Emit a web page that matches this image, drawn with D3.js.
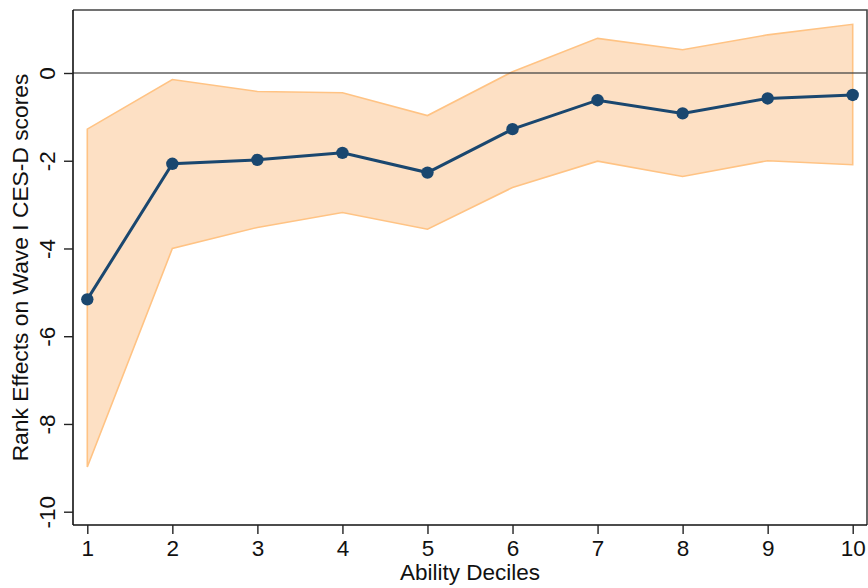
<!DOCTYPE html>
<html>
<head>
<meta charset="utf-8">
<script src="https://cdn.jsdelivr.net/npm/d3@7"></script>
<style>
html,body{margin:0;padding:0;background:#fff;}
svg{display:block;font-family:"Liberation Sans",Arial,Helvetica,sans-serif;}
</style>
</head>
<body>
<svg id="chart" width="868" height="588"></svg>
<script>
const deciles = [1,2,3,4,5,6,7,8,9,10];
const estimate = [-5.16,-2.07,-1.98,-1.82,-2.27,-1.28,-0.62,-0.92,-0.58,-0.50];
const upper = [-1.28,-0.15,-0.42,-0.45,-0.97,0.03,0.79,0.53,0.87,1.11];
const lower = [-8.98,-4.00,-3.52,-3.18,-3.56,-2.61,-2.01,-2.36,-2.00,-2.09];
const yTicks = [0,-2,-4,-6,-8,-10];
const xTicks = [1,2,3,4,5,6,7,8,9,10];
const xTitle = "Ability Deciles";
const yTitle = "Rank Effects on Wave I CES-D scores";

const rows = deciles.map((d,i)=>({d, est:estimate[i], hi:upper[i], lo:lower[i]}));

const svg = d3.select("#chart");
const pL = 73, pR = 867, pT = 10, pB = 525;

const x = d3.scaleLinear().domain([1,10]).range([87.3,852.7]);
const y = d3.scaleLinear().domain([-10,0]).range([511.7,73]);
const fmt = v => String(v);

// CI band
svg.append("path")
  .datum(rows)
  .attr("d", d3.area().x(r=>x(r.d)).y0(r=>y(r.lo)).y1(r=>y(r.hi)))
  .attr("fill","#fde0c4")
  .attr("stroke","#ffc384")
  .attr("stroke-width",1.6)
  .attr("stroke-linejoin","miter");

// zero line
svg.append("line")
  .attr("x1",pL).attr("x2",pR)
  .attr("y1",y(0)).attr("y2",y(0))
  .attr("stroke","#444").attr("stroke-opacity",0.85).attr("stroke-width",1.6);

// estimate line
svg.append("path")
  .datum(rows)
  .attr("d", d3.line().x(r=>x(r.d)).y(r=>y(r.est)))
  .attr("fill","none")
  .attr("stroke","#1a476f")
  .attr("stroke-width",3);

svg.selectAll("circle.pt")
  .data(rows)
  .enter().append("circle")
  .attr("class","pt")
  .attr("cx",r=>x(r.d)).attr("cy",r=>y(r.est))
  .attr("r",6.2)
  .attr("fill","#1a476f");

// frame top/right
svg.append("path")
  .attr("d",`M${pL},${pT}H${pR}V${pB}`)
  .attr("fill","none").attr("stroke","#444").attr("stroke-width",1.6);

// x axis
const xAxis = svg.append("g")
  .attr("transform",`translate(0,${pB})`)
  .call(d3.axisBottom(x).tickValues(xTicks).tickFormat(fmt).tickSize(9).tickPadding(6));
xAxis.select(".domain").attr("d",`M${pL},0H${pR}`).attr("stroke","#111").attr("stroke-width",1.6);
xAxis.selectAll(".tick line").attr("stroke","#222").attr("stroke-width",1.4);
xAxis.selectAll(".tick text")
  .attr("font-size",22.5).attr("fill","#111")
  .attr("font-family",'"Liberation Sans",Arial,Helvetica,sans-serif');

// y axis
const yAxis = svg.append("g")
  .attr("transform",`translate(${pL},0)`)
  .call(d3.axisLeft(y).tickValues(yTicks).tickFormat(fmt).tickSize(9).tickPadding(8));
yAxis.select(".domain").attr("d",`M0,${pT}V${pB}`).attr("stroke","#111").attr("stroke-width",1.6);
yAxis.selectAll(".tick line").attr("stroke","#222").attr("stroke-width",1.4);
yAxis.selectAll(".tick text")
  .attr("font-size",22.5).attr("fill","#111")
  .attr("font-family",'"Liberation Sans",Arial,Helvetica,sans-serif')
  .attr("x",null).attr("dy",null)
  .attr("text-anchor","middle")
  .attr("transform","translate(-18,0) rotate(-90)");

// titles
svg.append("text")
  .attr("x",(pL+pR)/2).attr("y",580)
  .attr("text-anchor","middle")
  .attr("font-size",22.5).attr("fill","#111")
  .text(xTitle);

svg.append("text")
  .attr("transform",`translate(28,${(pT+pB)/2}) rotate(-90)`)
  .attr("text-anchor","middle")
  .attr("font-size",22.8).attr("fill","#111")
  .text(yTitle);
</script>
</body>
</html>
